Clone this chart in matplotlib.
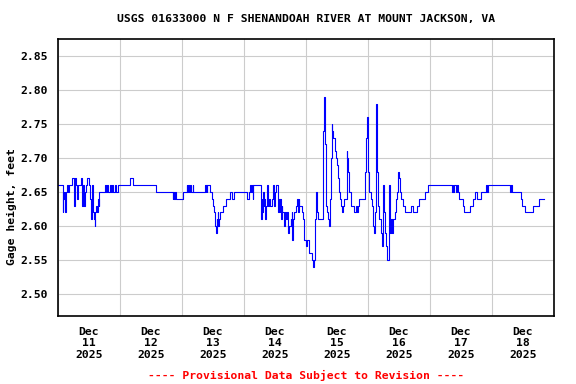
import numpy as np
import matplotlib
matplotlib.use("Agg")
import matplotlib.pyplot as plt
import matplotlib.dates as mdates
from matplotlib.ticker import NullFormatter, FormatStrFormatter

# Gage height readings: hours after 2025-12-11 00:00, value held until next entry
hours = [
    0, 1.8, 2.1, 2.3, 2.6, 2.8, 3.1, 3.4, 4.0, 4.4, 5.4, 6.2, 6.5, 6.7, 7.0, 7.5,
    7.9, 8.9, 9.4, 9.7, 10.1, 10.5, 10.8, 11.1, 12.0, 12.4, 12.6, 12.9, 13.2, 13.4,
    13.7, 13.9, 14.2, 14.5, 14.7, 15.2, 15.5, 15.7, 16.0, 18.2, 18.6, 19.0, 19.5,
    20.1, 20.5, 20.8, 21.4, 22.1, 22.4, 23.1,
    27.9, 28.9, 37.9, 44.4, 44.6, 44.9, 45.3, 45.7, 48.3,
    49.8, 50.0, 50.5, 50.7, 51.1, 51.3, 52.1, 52.3, 56.9, 57.1, 57.3, 57.5, 57.8,
    58.8, 59.5, 59.9, 60.4, 60.8, 61.2, 61.4, 61.6, 61.8, 62.0, 62.2, 62.7, 64.0,
    65.0, 66.6, 67.3, 68.2,
    73.3, 74.0, 74.4, 74.7, 75.0, 75.3, 75.5, 78.6, 78.8, 79.1, 79.4, 79.6, 79.9,
    80.2, 80.5, 80.8, 81.4, 81.8, 82.1, 82.8, 83.4, 83.7, 84.0, 84.3, 85.3, 85.5,
    85.8, 86.1, 86.4, 86.6, 86.9, 87.3, 87.6, 87.9, 88.3, 88.7, 88.9, 89.2, 89.6,
    90.0, 90.2, 90.5, 90.7, 91.1, 91.5, 92.2, 92.4, 92.8, 93.1, 93.4, 94.3, 94.7,
    95.1, 95.4, 95.9, 96.2, 97.2, 98.2, 98.6, 99.0, 99.3, 99.5, 99.8, 100.1,
    100.4, 100.8, 102.7, 103.0, 103.4, 103.7, 104.3, 104.6, 105.0, 105.3, 105.5,
    105.9, 106.2, 106.6, 107.2, 107.6, 107.9, 108.3, 108.5, 108.9, 109.2, 109.6,
    109.9, 110.2, 110.7, 111.7, 112.0, 112.4, 112.8, 113.3, 114.7, 115.2, 115.6,
    116.0, 116.5, 118.8, 119.2, 119.6, 119.9, 120.1, 120.5, 121.2, 121.7, 122.1,
    122.5, 122.7, 123.1, 123.4, 123.6, 124.0, 124.4, 124.9, 125.3, 125.7, 125.9,
    126.3, 126.6, 127.0, 127.4, 128.1, 128.5, 128.9, 129.2, 129.5, 130.4, 130.8,
    131.1, 131.5, 131.7, 132.0, 132.4, 132.8, 133.4, 134.3, 136.7, 137.3, 138.9,
    139.9, 142.1, 143.4, 152.4, 152.8, 153.0, 153.3, 154.0, 154.3, 155.0, 155.4,
    156.7, 157.2, 159.5, 160.5, 161.4, 162.1, 163.8, 165.7, 165.9, 166.3, 175.0,
    175.4, 175.6, 179.1, 179.8, 180.8, 183.8, 186.3, 188.1,
]
gage_ft = [
    2.66, 2.62, 2.65, 2.64, 2.65, 2.62, 2.65, 2.66, 2.65, 2.66, 2.67, 2.63, 2.66, 2.67, 2.66, 2.64,
    2.66, 2.67, 2.63, 2.66, 2.63, 2.65, 2.66, 2.67, 2.66, 2.64, 2.62, 2.61, 2.66, 2.64,
    2.62, 2.61, 2.60, 2.62, 2.63, 2.62, 2.64, 2.63, 2.65, 2.66, 2.65, 2.66, 2.65,
    2.66, 2.65, 2.66, 2.65, 2.66, 2.65, 2.66,
    2.67, 2.66, 2.65, 2.64, 2.65, 2.64, 2.65, 2.64, 2.65,
    2.66, 2.65, 2.66, 2.65, 2.66, 2.65, 2.66, 2.65, 2.66, 2.65, 2.66, 2.65, 2.66,
    2.65, 2.64, 2.63, 2.62, 2.60, 2.59, 2.61, 2.60, 2.62, 2.60, 2.61, 2.62, 2.63,
    2.64, 2.65, 2.64, 2.65,
    2.64, 2.65, 2.66, 2.65, 2.66, 2.64, 2.66, 2.61, 2.64, 2.62, 2.65, 2.63, 2.64,
    2.61, 2.63, 2.66, 2.63, 2.64, 2.63, 2.64, 2.66, 2.63, 2.65, 2.66, 2.62, 2.64,
    2.62, 2.64, 2.61, 2.63, 2.62, 2.61, 2.60, 2.62, 2.61, 2.62, 2.60, 2.59, 2.60,
    2.61, 2.60, 2.62, 2.58, 2.61, 2.62, 2.63, 2.64, 2.62, 2.64, 2.63, 2.62, 2.61,
    2.60, 2.58, 2.57, 2.58, 2.56, 2.55, 2.54, 2.55, 2.58, 2.61, 2.65, 2.63,
    2.62, 2.61, 2.74, 2.79, 2.72, 2.63, 2.62, 2.61, 2.60, 2.64, 2.70,
    2.75, 2.74, 2.73, 2.71, 2.70, 2.69, 2.68, 2.67, 2.65, 2.64, 2.63,
    2.62, 2.63, 2.64, 2.71, 2.70, 2.68, 2.65, 2.63, 2.62, 2.63, 2.62,
    2.63, 2.64, 2.68, 2.73, 2.76, 2.72, 2.68, 2.65, 2.64, 2.63, 2.60,
    2.59, 2.62, 2.78, 2.74, 2.68, 2.63, 2.61, 2.59, 2.57, 2.60, 2.66,
    2.62, 2.59, 2.57, 2.55, 2.66, 2.59, 2.61, 2.59, 2.61, 2.62, 2.64,
    2.65, 2.66, 2.68, 2.67, 2.65, 2.64, 2.63, 2.62, 2.63, 2.62, 2.63,
    2.64, 2.65, 2.66, 2.65, 2.66, 2.65, 2.66, 2.65, 2.66, 2.65, 2.64,
    2.63, 2.62, 2.63, 2.64, 2.65, 2.64, 2.65, 2.66, 2.65, 2.66, 2.65,
    2.66, 2.65, 2.64, 2.63, 2.62, 2.63, 2.64, 2.64,
]
y_ticks = [2.50, 2.55, 2.60, 2.65, 2.70, 2.75, 2.80, 2.85]

start = np.datetime64("2025-12-11T00:00")
times = start + (np.array(hours) * 60).round().astype("timedelta64[m]")

plt.rcParams["font.family"] = "DejaVu Sans Mono"
plt.rcParams["font.weight"] = "bold"
plt.rcParams["font.size"] = 8.2

fig = plt.figure(figsize=(5.76, 3.84), dpi=100)
ax = fig.add_axes([58 / 576, 68 / 384, 496 / 576, 277 / 384])

ax.plot(times, gage_ft, color="#0000ff", lw=0.8, drawstyle="steps-post")

ax.set_xlim(start, start + np.timedelta64(8, "D"))
ax.set_ylim(2.4675, 2.875)
ax.set_yticks(y_ticks)
ax.yaxis.set_major_formatter(FormatStrFormatter("%.2f"))

ax.xaxis.set_major_locator(mdates.DayLocator())
ax.xaxis.set_major_formatter(NullFormatter())
ax.xaxis.set_minor_locator(mdates.HourLocator(byhour=12))
ax.xaxis.set_minor_formatter(mdates.DateFormatter("%b\n%d\n%Y"))

ax.grid(True, which="major", color="#cccccc", lw=0.8)
ax.set_axisbelow(True)
ax.tick_params(which="both", length=0)
ax.tick_params(axis="y", pad=7)
ax.tick_params(axis="x", which="minor", pad=8)
for lab in ax.xaxis.get_minorticklabels():
    lab.set_linespacing(1.15)
for s in ax.spines.values():
    s.set_linewidth(1.2)
    s.set_color("black")

fig.text(306 / 576, 1 - 19 / 384, "USGS 01633000 N F SHENANDOAH RIVER AT MOUNT JACKSON, VA",
         ha="center", va="center")
fig.text(12 / 576, 177 / 384, "Gage height, feet", rotation=90, ha="center", va="center")
fig.text(306 / 576, 1 - 375 / 384, "---- Provisional Data Subject to Revision ----",
         ha="center", va="center", color="red")

fig.savefig("out.png", dpi=100)
